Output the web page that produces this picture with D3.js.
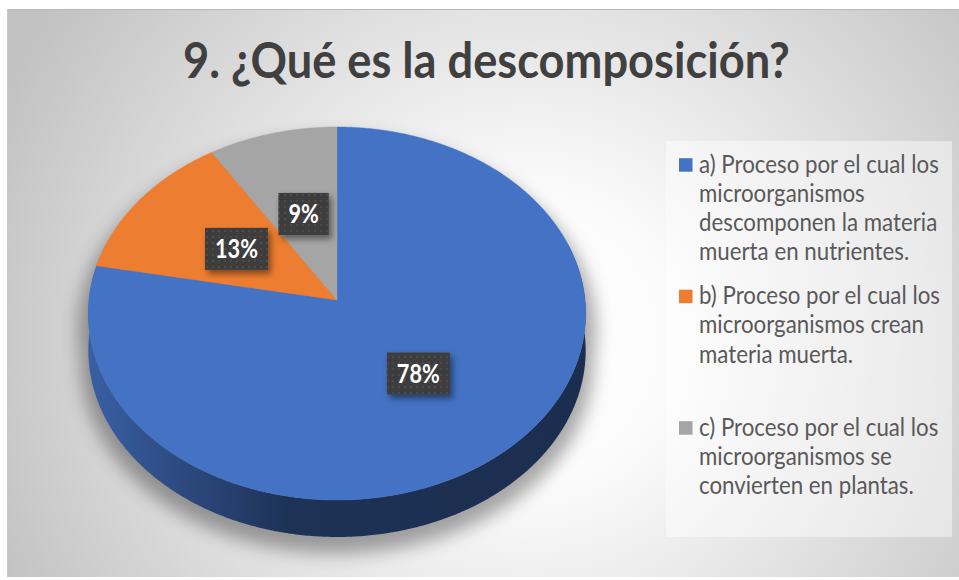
<!DOCTYPE html>
<html><head><meta charset="utf-8">
<script src="https://cdn.jsdelivr.net/npm/d3@7"></script>
<style>body{margin:0;background:#fff;overflow:hidden}</style>
</head><body>
<svg id="chart" width="959" height="580"></svg>
<script>
// ---------- data ----------
const chartTitle = "9. ¿Qué es la descomposición?";
const categories = [
  "a) Proceso por el cual los microorganismos descomponen la materia muerta en nutrientes.",
  "b) Proceso por el cual los microorganismos crean materia muerta.",
  "c) Proceso por el cual los microorganismos se convierten en plantas."
];
const legendLines = [
  ["a) Proceso por el cual los", "microorganismos", "descomponen la materia", "muerta en nutrientes."],
  ["b) Proceso por el cual los", "microorganismos crean", "materia muerta."],
  ["c) Proceso por el cual los", "microorganismos se", "convierten en plantas."]
];
const values = [78, 13, 9];
const colors = ["#4472C4", "#ED7D31", "#A5A5A5"];

// ---------- layout ----------
const W = 959, H = 580;
const svg = d3.select("#chart");
const defs = svg.append("defs");
const FONT = "Lato, 'Open Sans', sans-serif";

// background
const bg = defs.append("radialGradient").attr("id", "bg")
  .attr("gradientUnits", "userSpaceOnUse").attr("cx", 530).attr("cy", 340).attr("r", 580);
bg.append("stop").attr("offset", 0).attr("stop-color", "#ffffff");
bg.append("stop").attr("offset", 0.25).attr("stop-color", "#fbfbfb");
bg.append("stop").attr("offset", 1).attr("stop-color", "#c2c2c2");
svg.append("rect").attr("x", 7).attr("y", 9).attr("width", W - 7).attr("height", H - 12)
  .attr("fill", "url(#bg)");
svg.append("line").attr("x1", 7).attr("x2", W).attr("y1", 9.5).attr("y2", 9.5)
  .attr("stroke", "#b8b8b8").attr("stroke-width", 1);
svg.append("line").attr("x1", 7.5).attr("x2", 7.5).attr("y1", 9).attr("y2", H - 3)
  .attr("stroke", "#c8c8c8").attr("stroke-width", 1);

// helper: fit a font-size so a string reaches target width
function fitSize(text, weight, targetW, base) {
  const t = svg.append("text").attr("font-family", FONT).attr("font-weight", weight)
    .attr("font-size", base).text(text);
  const w = t.node().getComputedTextLength();
  t.remove();
  return base * targetW / w;
}

// title
const titleSize = fitSize(chartTitle, 700, 607, 40);
svg.append("text").attr("text-anchor", "middle")
  .attr("transform", "translate(486.5,78) scale(1,1.08)")
  .attr("font-family", FONT).attr("font-weight", 700).attr("font-size", titleSize)
  .attr("fill", "#404040").text(chartTitle);

// ---------- 3D pie ----------
const cx = 337, cy0 = 300, RX = 248, RY = 185.5, K = 0.0724, DEPTH = 37;
function proj(theta, r = 1, dy = 0) {
  const X = r * Math.sin(theta), Z = -r * Math.cos(theta);
  const s = 1 / (1 - K * Z);
  return [cx + RX * X * s, cy0 + RY * Z * s + dy];
}
function arcPts(a0, a1, r = 1, dy = 0) {
  const n = Math.max(2, Math.ceil((a1 - a0) / (Math.PI / 360)));
  return d3.range(n + 1).map(i => proj(a0 + (a1 - a0) * i / n, r, dy));
}
const line = d3.line().curve(d3.curveLinearClosed);

const pie = d3.pie().sort(null).value(d => d).startAngle(0).endAngle(2 * Math.PI);
const arcs = pie(values);
const total = d3.sum(values);

// shadow
const shf = defs.append("filter").attr("id", "pieShadow")
  .attr("x", "-20%").attr("y", "-20%").attr("width", "140%").attr("height", "140%");
shf.append("feGaussianBlur").attr("stdDeviation", 9);
const shadowG = svg.append("g").attr("filter", "url(#pieShadow)").attr("opacity", 0.34);
shadowG.append("path").attr("d", line(arcPts(0, 2 * Math.PI, 1.04, 16))).attr("fill", "#000");
shadowG.append("path").attr("d", line(arcPts(0, 2 * Math.PI, 1.03, DEPTH + 10))).attr("fill", "#000");

// side walls
const lo = Math.PI * 0.4, hi = Math.PI * 1.6;
arcs.forEach((a, i) => {
  const s = Math.max(a.startAngle, lo), e = Math.min(a.endAngle, hi);
  if (e <= s) return;
  const gid = "wall" + i;
  const c = d3.color(colors[i]);
  const g = defs.append("linearGradient").attr("id", gid)
    .attr("gradientUnits", "userSpaceOnUse").attr("x1", cx - RX).attr("x2", cx + RX)
    .attr("y1", 0).attr("y2", 0);
  g.append("stop").attr("offset", 0).attr("stop-color", c.darker(0.5));
  g.append("stop").attr("offset", 0.4).attr("stop-color", c.darker(2.3));
  g.append("stop").attr("offset", 1).attr("stop-color", c.darker(2.55));
  const pts = arcPts(s, e, 1, 0).concat(arcPts(s, e, 1, DEPTH).reverse());
  svg.append("path").attr("d", line(pts)).attr("fill", `url(#${gid})`);
});

// top faces
arcs.forEach((a, i) => {
  const pts = [proj(0, 0)].concat(arcPts(a.startAngle, a.endAngle));
  svg.append("path").attr("d", line(pts)).attr("fill", colors[i])
    .attr("stroke", colors[i]).attr("stroke-width", 0.5);
});

// ---------- data labels ----------
const pat = defs.append("pattern").attr("id", "dots").attr("patternUnits", "userSpaceOnUse")
  .attr("width", 6).attr("height", 6);
pat.append("rect").attr("width", 6).attr("height", 6).attr("fill", "#3d3d3d");
pat.append("rect").attr("x", 2).attr("y", 2).attr("width", 2).attr("height", 2).attr("fill", "#4c4c4c");
const lf = defs.append("filter").attr("id", "lblShadow")
  .attr("x", "-30%").attr("y", "-30%").attr("width", "170%").attr("height", "170%");
lf.append("feDropShadow").attr("dx", 3).attr("dy", 4).attr("stdDeviation", 3)
  .attr("flood-color", "#000").attr("flood-opacity", 0.45);

const fmt = d3.format(".0%");
const lblSize = fitSize("78%", 700, 43, 24);
arcs.forEach((a, i) => {
  const mid = (a.startAngle + a.endAngle) / 2;
  const [x, y] = proj(mid, 0.5);
  const txt = fmt(a.value / total);
  const t = svg.append("text").attr("font-family", FONT).attr("font-weight", 700)
    .attr("font-size", lblSize).attr("fill", "#ffffff").attr("text-anchor", "middle")
    .attr("transform", `translate(${x},${y + lblSize * 0.43}) scale(1,1.2)`).text(txt);
  const tw = t.node().getComputedTextLength();
  const bw = tw + 20, bh = 42;
  svg.insert("rect", () => t.node()).attr("x", x - bw / 2).attr("y", y - bh / 2)
    .attr("width", bw).attr("height", bh).attr("fill", "url(#dots)")
    .attr("filter", "url(#lblShadow)");
});

// ---------- legend ----------
svg.append("rect").attr("x", 666).attr("y", 141).attr("width", 286).attr("height", 396)
  .attr("fill", "#ffffff").attr("opacity", 0.45);
const legSize = fitSize(legendLines[0][0], 400, 240, 20);
const slot = d3.scaleBand().domain(categories).range([172.7, 172.7 + 131.5 * 3]).padding(0);
categories.forEach((c, i) => {
  const y0 = slot(c);
  svg.append("rect").attr("x", 679).attr("y", y0 - 14.5).attr("width", 13.5).attr("height", 13.5)
    .attr("fill", colors[i]);
  legendLines[i].forEach((ln, j) => {
    svg.append("text").attr("transform", `translate(699,${y0 + j * 29.2}) scale(1,1.08)`)
      .attr("font-family", FONT).attr("font-size", legSize).attr("fill", "#595959").text(ln);
  });
});
</script>
</body></html>
